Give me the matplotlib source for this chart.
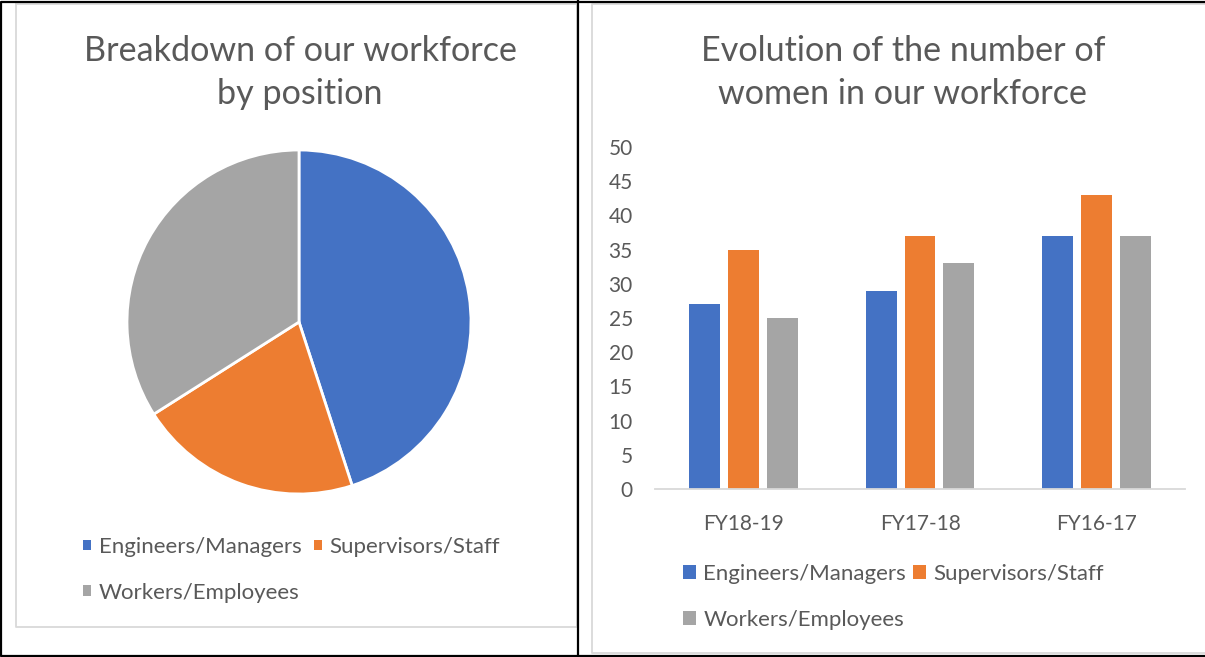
import numpy as np
import matplotlib
matplotlib.use('Agg')
import matplotlib.pyplot as plt
from matplotlib.patches import Patch
from matplotlib.lines import Line2D

plt.rcParams['font.family'] = ['Lato', 'DejaVu Sans']

# -- Data --
positions = ['Engineers/Managers', 'Supervisors/Staff', 'Workers/Employees']
pie_shares = [45, 21, 34]

years = ['FY18-19', 'FY17-18', 'FY16-17']
engineers = [27, 29, 37]
supervisors = [35, 37, 43]
workers = [25, 33, 37]

colors = ['#4472c4', '#ed7d31', '#a5a5a5']
text_color = '#595959'
border_gray = '#d9d9d9'

W, H = 1205, 657
fig = plt.figure(figsize=(W / 100, H / 100), dpi=100)


def rect(x0, y0, x1, y1):
    # pixel box (top-left origin) -> figure fraction rect
    return [x0 / W, 1 - y1 / H, (x1 - x0) / W, (y1 - y0) / H]


def line(xs, ys, color, lw):
    fig.add_artist(Line2D([x / W for x in xs], [1 - y / H for y in ys],
                          color=color, lw=lw, transform=fig.transFigure))


# -- Frames --
line([16, 577, 577, 16, 16], [4, 4, 627, 627, 4], border_gray, 1.3)
line([1205, 592, 592, 1205], [4, 4, 653, 653], border_gray, 1.3)
line([1205, 1, 1, 1205], [1.5, 1.5, 655.5, 655.5], 'black', 1.6)
line([577.5, 577.5], [0, 657], 'black', 1.6)

# legend fills column-wise, so reorder to get Excel's row-wise flow
order = [0, 2, 1]
handles = [Patch(facecolor=colors[i], edgecolor='none') for i in order]
labels = [positions[i] for i in order]

# -- Pie chart --
ax1 = fig.add_axes(rect(127, 150, 471, 494))
ax1.pie(pie_shares, colors=colors, startangle=90, counterclock=False,
        wedgeprops=dict(edgecolor='white', linewidth=2))
ax1.set_xlim(-1, 1)
ax1.set_ylim(-1, 1)
ax1.set_aspect('equal')

fig.text(300 / W, 1 - 72.5 / H, 'Breakdown of our workforce\nby position',
         ha='center', va='center', fontsize=24.6, color=text_color, linespacing=1.44)

fig.legend(handles, labels, loc='upper left', bbox_to_anchor=(83 / W, 1 - 537 / H),
           ncol=2, frameon=False, fontsize=16, handlelength=0.36, handleheight=0.36,
           handletextpad=0.36, columnspacing=0.54, labelspacing=1.16, borderpad=0,
           borderaxespad=0, labelcolor=text_color)

# -- Bar chart --
ax2 = fig.add_axes(rect(655, 147, 1185, 489))
x = np.arange(len(years))
bw = 0.175
step = 0.22
for i, (vals, c) in enumerate(zip([engineers, supervisors, workers], colors)):
    ax2.bar(x + (i - 1) * step, vals, width=bw, color=c, label=positions[i])

ax2.set_xlim(-0.5, 2.5)
ax2.set_ylim(0, 50)
ax2.set_yticks(range(0, 51, 5))
ax2.set_xticks(x, years)
for s in ['top', 'right', 'left']:
    ax2.spines[s].set_visible(False)
ax2.spines['bottom'].set_color(border_gray)
ax2.spines['bottom'].set_linewidth(1.3)
ax2.tick_params(axis='both', length=0, labelsize=15, labelcolor=text_color)
ax2.tick_params(axis='y', pad=16)
ax2.tick_params(axis='x', pad=18)

fig.text(903 / W, 1 - 72.5 / H, 'Evolution of the number of\nwomen in our workforce',
         ha='center', va='center', fontsize=24.6, color=text_color, linespacing=1.44)

fig.legend(handles, labels, loc='upper left', bbox_to_anchor=(683 / W, 1 - 564 / H),
           ncol=2, frameon=False, fontsize=16, handlelength=0.59, handleheight=0.59,
           handletextpad=0.32, columnspacing=0.32, labelspacing=1.16, borderpad=0,
           borderaxespad=0, labelcolor=text_color)

fig.savefig('out.png', dpi=100, facecolor='white')
